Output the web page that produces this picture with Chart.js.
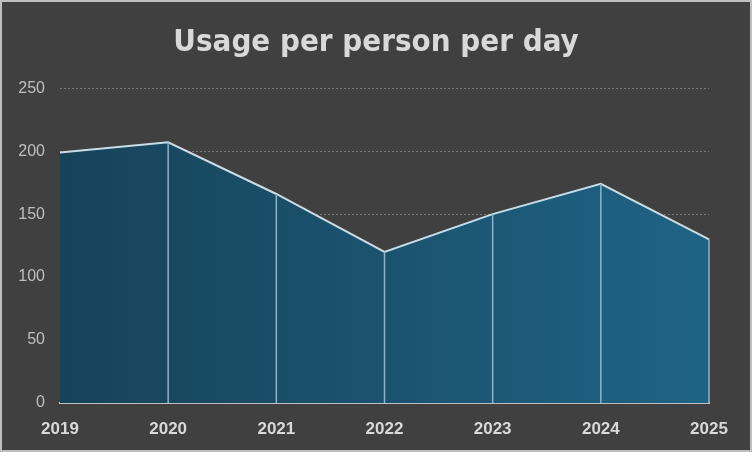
<!DOCTYPE html>
<html>
<head>
<meta charset="utf-8">
<script src="https://cdn.jsdelivr.net/npm/chart.js@4"></script>
<style>
  html, body { margin: 0; padding: 0; background: #404040; }
  #wrap {
    width: 752px; height: 452px; box-sizing: border-box;
    border: 2px solid #bfbfbf; background: #404040; position: relative;
  }
</style>
</head>
<body>
<div id="wrap"><canvas id="chart"></canvas></div>
<script>
const years = ['2019', '2020', '2021', '2022', '2023', '2024', '2025'];
const usage = [199, 207, 166, 120, 150, 174, 130];
const yTicks = [0, 50, 100, 150, 200, 250];

// vertical lines from every point down to the axis
const dropLines = {
  id: 'dropLines',
  afterDatasetsDraw(chart) {
    const meta = chart.getDatasetMeta(0);
    const bottom = chart.scales.y.getPixelForValue(0);
    const ctx = chart.ctx;
    ctx.save();
    ctx.strokeStyle = '#8fb3c8';
    ctx.lineWidth = 1.5;
    meta.data.forEach((pt, i) => {
      if (i === 0) return;
      ctx.beginPath();
      ctx.moveTo(pt.x, pt.y);
      ctx.lineTo(pt.x, bottom);
      ctx.stroke();
    });
    ctx.restore();
  }
};

new Chart(document.getElementById('chart'), {
  type: 'line',
  data: {
    labels: years,
    datasets: [{
      data: usage,
      fill: 'origin',
      borderColor: '#c9dde8',
      borderWidth: 2,
      pointRadius: 0,
      tension: 0,
      backgroundColor: (context) => {
        const area = context.chart.chartArea;
        if (!area) return '#1b5270';
        const g = context.chart.ctx.createLinearGradient(area.left, 0, area.right, 0);
        g.addColorStop(0, '#174359');
        g.addColorStop(1, '#1f6385');
        return g;
      }
    }]
  },
  options: {
    responsive: true,
    maintainAspectRatio: false,
    animation: false,
    layout: { padding: 0 },
    plugins: {
      legend: { display: false },
      tooltip: { enabled: false },
      title: {
        display: true,
        text: 'Usage per person per day',
        color: '#d9d9d9',
        font: { family: "'DejaVu Sans Condensed', 'Liberation Sans', sans-serif", weight: 'bold', size: 31 },
        padding: { top: 22, bottom: 27 }
      }
    },
    scales: {
      x: {
        offset: false,
        afterFit: (scale) => { scale.height = 47; },
        grid: { display: false, drawTicks: false },
        border: { display: true, color: '#bfbfbf', width: 2 },
        ticks: {
          color: '#d9d9d9',
          font: { family: 'Liberation Sans', weight: 'bold', size: 17 },
          padding: 16,
          maxRotation: 0
        }
      },
      y: {
        min: 0,
        max: 250,
        afterFit: (scale) => { scale.width = 58; },
        afterBuildTicks: (scale) => { scale.ticks = yTicks.map(v => ({ value: v })); },
        grid: {
          color: (c) => c.tick && c.tick.value === 0 ? 'rgba(0,0,0,0)' : '#7a7a7a',
          lineWidth: 1,
          drawTicks: false
        },
        border: { display: false, dash: [2, 2] },
        ticks: {
          color: '#bfbfbf',
          font: { family: 'Liberation Sans', size: 16 },
          padding: 15
        }
      },
      // empty axis that only keeps room on the right
      yRight: {
        position: 'right',
        min: 0,
        max: 250,
        afterFit: (scale) => { scale.width = 41; },
        grid: { display: false, drawTicks: false },
        border: { display: false },
        ticks: { display: false }
      }
    }
  },
  plugins: [dropLines]
});
</script>
</body>
</html>
